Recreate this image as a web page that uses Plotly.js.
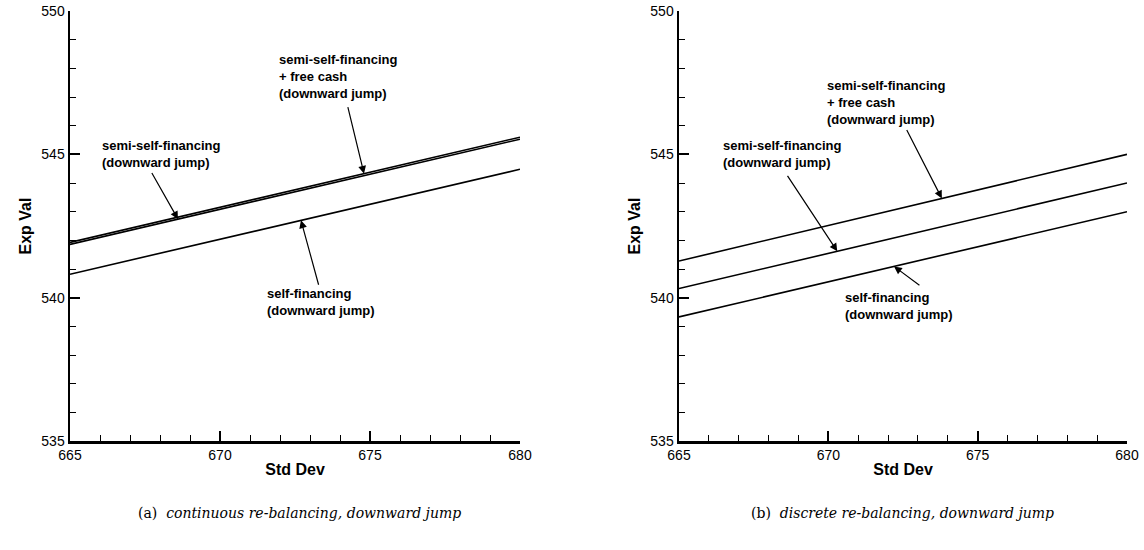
<!DOCTYPE html>
<html>
<head>
<meta charset="utf-8">
<script src="https://cdn.plot.ly/plotly-3.0.1.min.js"></script>
<style>html,body{margin:0;padding:0;background:#fff;}#chart{width:1144px;height:550px;}</style>
</head>
<body>
<div id="chart"></div>
<script>
// ---- data ----
const stdDev = [665, 680];
// (a) continuous re-balancing
const aSemiFreeCash = [541.93, 545.6];
const aSemi = [541.86, 545.53];
const aSelf = [540.82, 544.48];
// (b) discrete re-balancing
const bSemiFreeCash = [541.28, 545.0];
const bSemi = [540.32, 544.0];
const bSelf = [539.33, 543.0];

const lblFreeCash = 'semi-self-financing<br>+ free cash<br>(downward jump)';
const lblSemi = 'semi-self-financing<br>(downward jump)';
const lblSelf = 'self-financing<br>(downward jump)';
const captionA = '(a)  <i>continuous re-balancing, downward jump</i>';
const captionB = '(b)  <i>discrete re-balancing, downward jump</i>';

function lineAt(arr, x){ return arr[0] + (arr[1]-arr[0])*(x-stdDev[0])/(stdDev[1]-stdDev[0]); }

const lineStyle = {color:'#000', width:1.6};
const traces = [
  {x:stdDev, y:aSemiFreeCash, xaxis:'x', yaxis:'y'},
  {x:stdDev, y:aSemi, xaxis:'x', yaxis:'y'},
  {x:stdDev, y:aSelf, xaxis:'x', yaxis:'y'},
  {x:stdDev, y:bSemiFreeCash, xaxis:'x2', yaxis:'y2'},
  {x:stdDev, y:bSemi, xaxis:'x2', yaxis:'y2'},
  {x:stdDev, y:bSelf, xaxis:'x2', yaxis:'y2'}
].map(t => Object.assign(t, {type:'scatter', mode:'lines', line:lineStyle, hoverinfo:'skip', showlegend:false}));

const tickFont = {family:'Liberation Sans, Arial, sans-serif', size:14, color:'#000'};
function xax(domain, anchor){
  return {domain:domain, anchor:anchor, range:[665,680], tickvals:[665,670,675,680],
    ticks:'inside', ticklen:10, tickwidth:2, tickcolor:'#000',
    minor:{ticks:'inside', ticklen:6, tickwidth:1, dtick:1, tickcolor:'#000'},
    showline:true, linewidth:2.5, linecolor:'#000', showgrid:false, zeroline:false,
    tickfont:tickFont, fixedrange:true,
    title:{text:'<b>Std Dev</b>', font:{family:'Liberation Sans, Arial, sans-serif', size:16, color:'#000'}, standoff:2}};
}
function yax(anchor){
  return {domain:[0.198,0.98], anchor:anchor, range:[535,550], tickvals:[535,540,545,550],
    ticks:'inside', ticklen:10, tickwidth:2, tickcolor:'#000',
    minor:{ticks:'inside', ticklen:6, tickwidth:1, dtick:1, tickcolor:'#000'},
    showline:true, linewidth:2.5, linecolor:'#000', showgrid:false, zeroline:false,
    tickfont:tickFont, fixedrange:true,
    title:{text:'<b>Exp Val</b>', font:{family:'Liberation Sans, Arial, sans-serif', size:16, color:'#000'}, standoff:6}};
}

const annFont = {family:'Liberation Sans, Arial, sans-serif', size:13, color:'#000'};
function txt(xr, yr, x, y, t){
  return {xref:xr, yref:yr, x:x, y:y, text:'<b>'+t+'</b>', showarrow:false, xanchor:'left', yanchor:'middle', align:'left', font:annFont};
}
function arr(xr, yr, hx, hy, tx, ty){
  return {xref:xr, yref:yr, x:hx, y:hy, axref:xr, ayref:yr, ax:tx, ay:ty, text:'', showarrow:true,
    arrowhead:2, arrowsize:1.3, arrowwidth:1.2, arrowcolor:'#000'};
}

const annotations = [
  txt('x','y',671.9,547.7,lblFreeCash),
  arr('x','y',674.8,lineAt(aSemiFreeCash,674.8),674.25,546.7),
  txt('x','y',666.0,545.0,lblSemi),
  arr('x','y',668.6,lineAt(aSemi,668.6),667.7,544.4),
  txt('x','y',671.5,539.85,lblSelf),
  arr('x','y',672.7,lineAt(aSelf,672.7),673.3,540.4),

  txt('x2','y2',669.9,546.8,lblFreeCash),
  arr('x2','y2',673.8,lineAt(bSemiFreeCash,673.8),672.6,545.9),
  txt('x2','y2',666.4,545.0,lblSemi),
  arr('x2','y2',670.3,lineAt(bSemi,670.3),668.6,544.3),
  txt('x2','y2',670.5,539.7,lblSelf),
  arr('x2','y2',672.2,lineAt(bSelf,672.2),673.1,540.4),

  {xref:'paper', yref:'paper', x:0.262, y:0.068, text:captionA, showarrow:false, xanchor:'center', yanchor:'middle',
    font:{family:'DejaVu Serif, Liberation Serif, serif', size:14, color:'#000'}},
  {xref:'paper', yref:'paper', x:0.789, y:0.068, text:captionB, showarrow:false, xanchor:'center', yanchor:'middle',
    font:{family:'DejaVu Serif, Liberation Serif, serif', size:14, color:'#000'}}
];

const layout = {
  width:1144, height:550, margin:{l:0, r:0, t:0, b:0},
  paper_bgcolor:'#fff', plot_bgcolor:'#fff',
  xaxis: xax([70/1144, 520/1144], 'y'),
  yaxis: yax('x'),
  xaxis2: xax([679/1144, 1127/1144], 'y2'),
  yaxis2: yax('x2'),
  annotations: annotations,
  showlegend:false
};

Plotly.newPlot('chart', traces, layout, {displayModeBar:false, staticPlot:true});
</script>
</body>
</html>
